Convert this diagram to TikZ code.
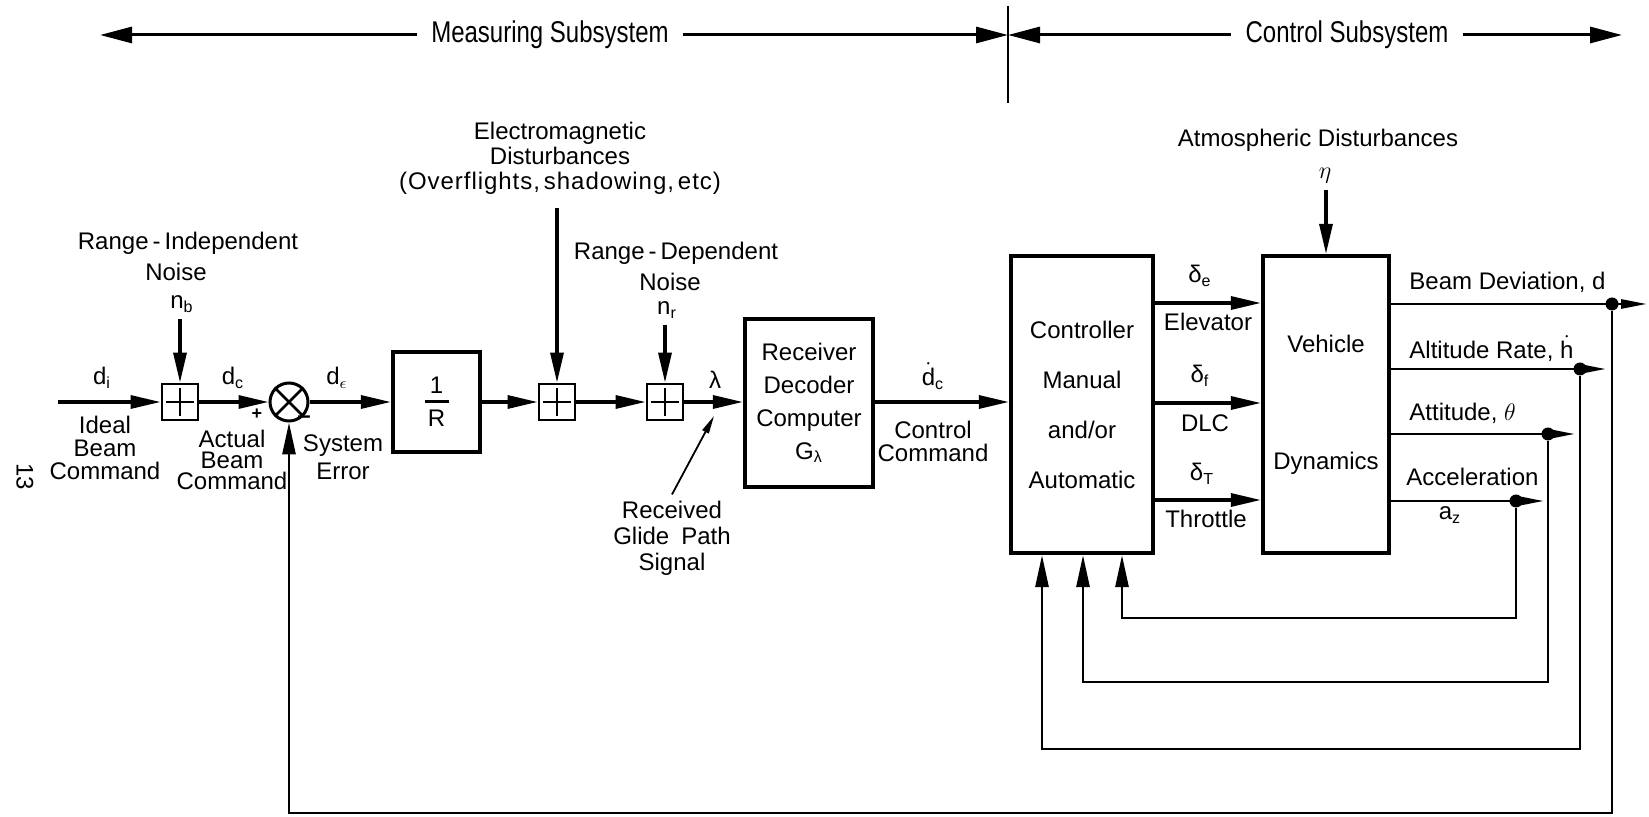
\documentclass[tikz,border=0pt]{standalone}
\usepackage{fontspec}
\setmainfont{Liberation Sans}
\newfontfamily\narrowfont[FakeStretch=0.8]{Liberation Sans}
\usetikzlibrary{arrows.meta}
\begin{document}
\begin{tikzpicture}[x=0.5pt,y=-0.5pt,
  every node/.style={font=\fontsize{12}{13}\selectfont, inner sep=3pt},
  sig/.style={line width=1.6pt},
  arr/.style={sig,-{Triangle[length=15pt,width=6.5pt]}},
  oarr/.style={line width=1.4pt,-{Triangle[length=13pt,width=4.5pt]}},
  fb/.style={line width=1.4pt},
  fbarr/.style={fb,-{Triangle[length=16pt,width=6.5pt]}},
  parr/.style={line width=0.9pt,-{Triangle[length=9pt,width=3.5pt]}},
  toparr/.style={line width=1.5pt,-{Triangle[length=16pt,width=8pt]}},
  blk/.style={draw,line width=2.1pt,inner sep=0pt,align=center},
  sumbox/.style={draw,line width=1.4pt,minimum size=18pt,inner sep=0pt},
  plusbar/.style={line width=1.3pt},
  lbl/.style={align=center},
  topfont/.style={font=\narrowfont\fontsize{15}{16}\selectfont, inner sep=7pt},
  dotc/.style={circle,fill,inner sep=0pt,minimum size=6.5pt},
]
\useasboundingbox (0,0) rectangle (1649,817);

% ---------- top ----------
\coordinate (vt) at (1008,6);
\coordinate (vb) at (1008,103);
\draw[line width=1.1pt] (vt) -- (vb);
\node[topfont] (ms) at (550,35) {Measuring Subsystem};
\node[topfont] (cs) at (1347,35) {Control Subsystem};
\coordinate (msl) at (100,35);
\coordinate (csr) at (1622,35);
\draw[toparr] (ms.west) -- (msl);
\draw[toparr] (ms.east) -- (vb |- ms.east);
\draw[toparr] (cs.west) -- (vb |- cs.west);
\draw[toparr] (cs.east) -- (csr);

% page number
\node[rotate=-90] (pg) at (25,477) {13};

% ---------- input and first summer ----------
\coordinate (in) at (58,402);
\node[sumbox] (s1) at (180,402) {};
\draw[plusbar] ([yshift=-2.5pt]s1.north) -- ([yshift=2.5pt]s1.south);
\draw[plusbar] ([xshift=2.5pt]s1.west) -- ([xshift=-2.5pt]s1.east);
\node (rin) at (188,243) {Range\,-\,Independent};
\node (nz1) at (176,272) {Noise};
\node (nb) at (182,304) {n\textsubscript{b}};
\draw[arr] (s1 |- nb.south) -- (s1);
\draw[arr] (in) -- (s1);
\node (di) at (102,378) {d\textsubscript{i}};
\node[lbl, font=\fontsize{12}{11.5}\selectfont] (ibc) at (105,448) {Ideal\\Beam\\Command};

% ---------- comparator ----------
\node[circle,draw,line width=1.5pt,minimum size=19pt,inner sep=0pt] (sj) at (289,402) {};
\draw[plusbar] (sj.north west) -- (sj.south east);
\draw[plusbar] (sj.north east) -- (sj.south west);
\draw[arr] (s1) -- (sj);
\node (dc) at (233,378) {d\textsubscript{c}};
\node[font=\fontsize{9}{9}\selectfont\bfseries] (pl) at (257,414) {+};
\node[lbl, font=\fontsize{12}{10.5}\selectfont] (abc) at (232,460) {Actual\\Beam\\Command};
\node[font=\fontsize{12}{13}\selectfont\bfseries] (mi) at (304,420) {–};
\node[lbl, font=\fontsize{12}{14}\selectfont] (se) at (343,457) {System\\Error};

% ---------- 1/R ----------
\node[blk, minimum width=43.5pt, minimum height=50pt] (R) at (436.5,402) {};
\node[fill,inner sep=0pt,minimum width=12pt,minimum height=1.5pt] (Rb) at (R.center) {};
\node[anchor=south,inner sep=3pt] (R1) at (Rb.north) {1};
\node[anchor=north,inner sep=3pt] (R2) at (Rb.south) {R};
\draw[arr] (sj) -- (R);
\node (de) at (337,378) {d\textsubscript{$\epsilon$}};

% ---------- EM summer ----------
\node[sumbox] (s2) at (557,402) {};
\draw[plusbar] ([yshift=-2.5pt]s2.north) -- ([yshift=2.5pt]s2.south);
\draw[plusbar] ([xshift=2.5pt]s2.west) -- ([xshift=-2.5pt]s2.east);
\draw[arr] (R) -- (s2);
\node[lbl, font=\fontsize{12}{12.5}\selectfont] (em) at (560,158) {Electromagnetic\\Disturbances\\{\addfontfeature{LetterSpace=4}(Overflights,\,shadowing,\,etc)}};
\coordinate (emt) at (557,208);
\draw[arr] (emt) -- (s2);

% ---------- range dependent summer ----------
\node[sumbox] (s3) at (665,402) {};
\draw[plusbar] ([yshift=-2.5pt]s3.north) -- ([yshift=2.5pt]s3.south);
\draw[plusbar] ([xshift=2.5pt]s3.west) -- ([xshift=-2.5pt]s3.east);
\draw[arr] (s2) -- (s3);
\node (rdn) at (676,253) {Range\,-\,Dependent};
\node (nz2) at (670,282) {Noise};
\node (nr) at (667,310) {n\textsubscript{r}};
\draw[arr] (s3 |- nr.south) -- (s3);
\node (lam) at (715,380) {λ};

% ---------- receiver ----------
\node[blk, minimum width=64pt, minimum height=84pt, font=\fontsize{12}{16.5}\selectfont] (rx) at (809,403) {Receiver\\Decoder\\Computer\\G\textsubscript{λ}};
\draw[arr] (s3) -- (s3 -| rx.west);
\node[lbl, font=\fontsize{12}{13}\selectfont] (rgp) at (672,538) {Received\\Glide\enspace Path\\Signal};
\coordinate (rq) at (714,416);
\draw[parr] (rgp.north) -- (rq);

% ---------- controller ----------
\node[blk, minimum width=71pt, minimum height=148.5pt, font=\fontsize{12}{25}\selectfont] (ctrl) at (1082,404.5) {Controller\\Manual\\and/or\\Automatic};
\draw[arr] (rx.east |- s3) -- (ctrl.west |- s3);
\node[inner sep=1pt] (dcd) at (933,376) {$\dot{\mbox{d}}$\textsubscript{c}};
\node[lbl, font=\fontsize{12}{11.5}\selectfont] (cc) at (933,441) {Control\\Command};

% ---------- vehicle ----------
\node[blk, minimum width=63pt, minimum height=148.5pt, font=\fontsize{12}{58.5}\selectfont] (veh) at (1326,404.5) {Vehicle\\Dynamics};
\coordinate (ya) at (0,303);
\coordinate (yb) at (0,403);
\coordinate (yc) at (0,500);
\draw[arr] (ctrl.east |- ya) -- (veh.west |- ya);
\draw[arr] (ctrl.east |- yb) -- (veh.west |- yb);
\draw[arr] (ctrl.east |- yc) -- (veh.west |- yc);
\node (de1) at (1200,276) {δ\textsubscript{e}};
\node (el) at (1208,322) {Elevator};
\node (df) at (1200,376) {δ\textsubscript{f}};
\node (dlc) at (1205,423) {DLC};
\node (dT) at (1202,474) {δ\textsubscript{T}};
\node (thr) at (1206,519) {Throttle};

\node (atm) at (1318,140) {Atmospheric Disturbances};
\node (eta) at (1325,176) {$\eta$};
\draw[arr] (veh.north |- eta.south) -- (veh.north);

% ---------- outputs ----------
\node[dotc] (dA) at (1612,304) {};
\node[dotc] (dB) at (1580,369) {};
\node[dotc] (dC) at (1548,434) {};
\node[dotc] (dD) at (1516,501) {};
\coordinate (tA) at (1647,304);
\coordinate (tB) at (1606,369);
\coordinate (tC) at (1575,434);
\coordinate (tD) at (1544,501);
\draw[oarr] (veh.east |- dA) -- (tA);
\draw[oarr] (veh.east |- dB) -- (tB);
\draw[oarr] (veh.east |- dC) -- (tC);
\draw[oarr] (veh.east |- dD) -- (tD);
\node[anchor=west,inner sep=1pt] (lA) at (1407,282) {Beam Deviation, d};
\node[anchor=west,inner sep=1pt] (lB) at (1407,349) {Altitude Rate, $\dot{\mbox{h}}$};
\node[anchor=west,inner sep=1pt] (lC) at (1407,413) {Attitude, $\theta$};
\node[anchor=west,inner sep=1pt] (lD) at (1404,477) {Acceleration};
\node (az) at (1450,515) {a\textsubscript{z}};

% ---------- feedback loops ----------
\coordinate (cD) at (1122,618);
\coordinate (cC) at (1083,682);
\coordinate (cB) at (1042,749);
\coordinate (cO) at (289,813);
\draw[fbarr] (dD) |- (cD) -- (cD |- ctrl.south);
\draw[fbarr] (dC) |- (cC) -- (cC |- ctrl.south);
\draw[fbarr] (dB) |- (cB) -- (cB |- ctrl.south);
\draw[fbarr] (dA) |- (cO) -- (sj);
\end{tikzpicture}
\end{document}
